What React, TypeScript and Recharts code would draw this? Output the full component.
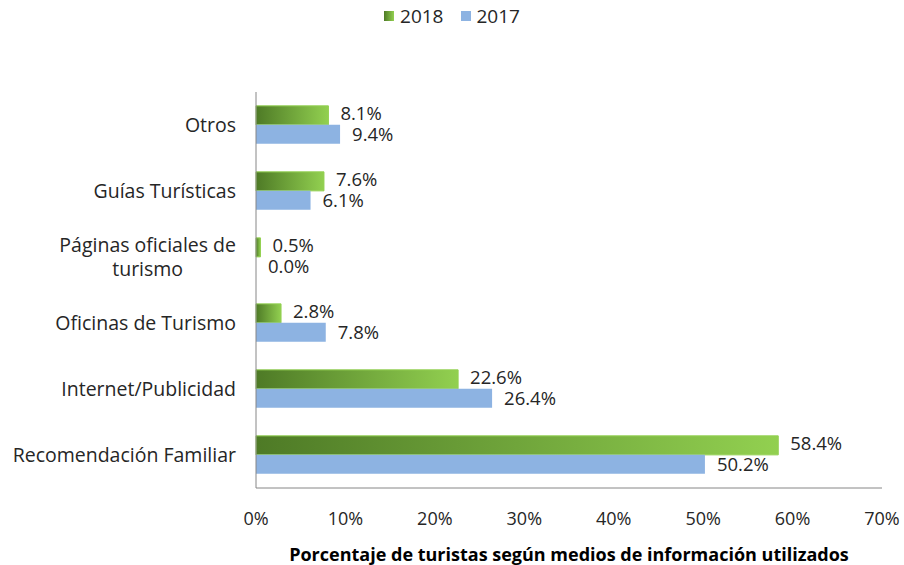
import { BarChart, Bar, XAxis, YAxis, LabelList } from 'recharts'

const categories = [
  'Otros',
  'Guías Turísticas',
  'Páginas oficiales de turismo',
  'Oficinas de Turismo',
  'Internet/Publicidad',
  'Recomendación Familiar',
]
const values2018 = [8.1, 7.6, 0.5, 2.8, 22.6, 58.4]
const values2017 = [9.4, 6.1, 0.0, 7.8, 26.4, 50.2]
const xTicks = [0, 10, 20, 30, 40, 50, 60, 70]

const data = categories.map((name, i) => ({
  name,
  y2018: values2018[i],
  y2017: values2017[i],
}))

const FONT = '"Open Sans", "Liberation Sans", sans-serif'
const TEXT = '#262626'
const CAT_SIZE = 19.5
const LABEL_SIZE = 18.5

// break the long category label onto two lines, centred as a block
const wrapped: Record<string, string[]> = {
  'Páginas oficiales de turismo': ['Páginas oficiales de', 'turismo'],
}

let ctx: CanvasRenderingContext2D | null = null
function textWidth(s: string) {
  if (!ctx) ctx = document.createElement('canvas').getContext('2d')
  if (!ctx) return s.length * 9.5
  ctx.font = `${CAT_SIZE}px ${FONT}`
  return ctx.measureText(s).width
}

function CategoryTick(props: any) {
  const { x, y, payload } = props
  const lines = wrapped[payload.value] || [payload.value]
  const right = x - 12
  if (lines.length === 1) {
    return (
      <text x={right} y={y} dy={7} textAnchor="end" fill={TEXT} fontSize={CAT_SIZE} fontFamily={FONT}>
        {payload.value}
      </text>
    )
  }
  const w = Math.max(...lines.map(textWidth))
  const cx = right - w / 2
  return (
    <text x={cx} y={y} textAnchor="middle" fill={TEXT} fontSize={CAT_SIZE} fontFamily={FONT}>
      {lines.map((l, i) => (
        <tspan key={i} x={cx} dy={i === 0 ? -5 : 24}>
          {l}
        </tspan>
      ))}
    </text>
  )
}

function LegendBox() {
  const items = [
    { label: '2018', fill: 'url(#legendGreen)' },
    { label: '2017', fill: '#8db3e2' },
  ]
  return (
    <div style={{ display: 'flex', justifyContent: 'center', gap: 17, fontFamily: FONT, fontSize: 19, color: TEXT }}>
      {items.map(it => (
        <span key={it.label} style={{ display: 'flex', alignItems: 'center', gap: 6 }}>
          <svg width={10} height={10}>
            <defs>
              <linearGradient id="legendGreen" x1="0" y1="0" x2="1" y2="0">
                <stop offset="0%" stopColor="#4e7a26" />
                <stop offset="100%" stopColor="#92d050" />
              </linearGradient>
            </defs>
            <rect width={10} height={10} fill={it.fill} />
          </svg>
          {it.label}
        </span>
      ))}
    </div>
  )
}

const fmt = (v: any) => `${Number(v).toFixed(1)}%`

// label for the 2018 bar; a zero 2017 bar has no rectangle, so its label is drawn here
function Label2018(props: any) {
  const { x, y, width, height, value, index } = props
  const lx = x + width + 12
  return (
    <g>
      <text x={lx} y={y + height / 2} dy={5} fill={TEXT} fontSize={LABEL_SIZE} fontFamily={FONT}>
        {fmt(value)}
      </text>
      {values2017[index] === 0 && (
        <text x={x + 12} y={y + height * 1.5} dy={7} fill={TEXT} fontSize={LABEL_SIZE} fontFamily={FONT}>
          {fmt(0)}
        </text>
      )}
    </g>
  )
}

function Label2017(props: any) {
  const { x, y, width, height, value } = props
  if (!value) return null
  return (
    <text x={x + width + 12} y={y + height / 2} dy={7} fill={TEXT} fontSize={LABEL_SIZE} fontFamily={FONT}>
      {fmt(value)}
    </text>
  )
}

export default function App() {
  return (
    <div style={{ position: 'absolute', left: 0, top: 0, width: 904, height: 565, background: '#fff' }}>
      <div style={{ position: 'absolute', left: 0, top: 3, width: 904 }}>
        <LegendBox />
      </div>
      <BarChart
        width={904}
        height={565}
        data={data}
        layout="vertical"
        margin={{ top: 92, right: 22, bottom: 0, left: 0 }}
        barCategoryGap="21%"
        barGap={0}
      >
        <defs>
          <linearGradient id="green2018" x1="0" y1="0" x2="1" y2="0">
            <stop offset="0%" stopColor="#4e7a26" />
            <stop offset="100%" stopColor="#92d050" />
          </linearGradient>
        </defs>
        <XAxis
          type="number"
          domain={[0, 70]}
          ticks={xTicks}
          tickFormatter={v => `${v}%`}
          height={77}
          axisLine={{ stroke: '#868686' }}
          tickLine={false}
          tick={{ fill: TEXT, fontSize: 18, fontFamily: FONT }}
          tickMargin={18}
          interval={0}
          label={{
            value: 'Porcentaje de turistas  según medios de información  utilizados',
            position: 'insideBottom',
            offset: 4,
            fill: '#000',
            fontSize: 18,
            fontWeight: 'bold',
            fontFamily: FONT,
            style: { whiteSpace: 'pre' },
          }}
        />
        <YAxis
          type="category"
          dataKey="name"
          width={256}
          axisLine={{ stroke: '#868686' }}
          tickLine={false}
          tick={<CategoryTick />}
          interval={0}
        />
        <Bar dataKey="y2018" fill="url(#green2018)" stroke="#92d050" strokeWidth={1} isAnimationActive={false}>
          <LabelList dataKey="y2018" content={<Label2018 />} />
        </Bar>
        <Bar dataKey="y2017" fill="#8db3e2" isAnimationActive={false}>
          <LabelList dataKey="y2017" content={<Label2017 />} />
        </Bar>
      </BarChart>
    </div>
  )
}
